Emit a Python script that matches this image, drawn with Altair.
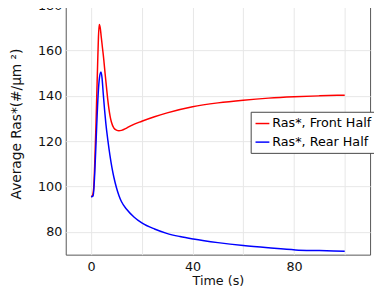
import altair as alt
import pandas as pd

# Front half (red)
t_front = [0, 0.5, 1.0, 1.4, 1.9, 2.3, 2.6, 2.9, 3.2, 3.6, 4.0, 4.5, 5.0, 5.5, 6.0, 6.5, 7.0, 7.5, 8.0,
           9.0, 10.0, 11.0, 12.0, 14.0, 16.0, 20.0, 25.0, 30.0, 40.0, 50.0, 60.0, 70.0, 80.0, 90.0, 100.0]
v_front = [95.5, 96.0, 99.0, 109.0, 126.5, 143.0, 155.0, 166.0, 171.5, 170.0, 166.0, 161.0, 156.0, 150.0,
           144.5, 139.0, 134.5, 131.0, 128.5, 125.8, 124.9, 124.6, 124.8, 125.8, 127.0, 128.8, 130.8, 132.5,
           135.2, 136.9, 138.1, 139.0, 139.6, 140.0, 140.3]

# Rear half (blue)
t_rear = [0, 0.8, 1.4, 1.9, 2.2, 2.8, 3.3, 3.9, 4.3, 4.8, 5.3, 5.8, 6.6, 7.4, 8.2, 9.0, 10.0, 11.0,
          12.0, 14.0, 17.0, 20.0, 25.0, 29.8, 35.0, 40.3, 50.0, 60.0, 70.0, 80.6, 90.0, 100.0]
v_rear = [95.5, 95.9, 105.0, 118.0, 126.5, 141.0, 148.0, 150.5, 148.0, 140.8, 134.0, 128.0, 120.5, 114.0,
          108.5, 104.0, 99.5, 96.0, 93.3, 90.0, 86.5, 84.0, 81.3, 79.4, 78.0, 76.9, 75.3, 74.0, 73.0, 72.1,
          71.8, 71.5]

series_names = ["Ras*, Front Half", "Ras*, Rear Half"]
series_colors = ["#ff0000", "#0000ff"]

df = pd.concat([
    pd.DataFrame({"t": t_front, "v": v_front, "s": series_names[0]}),
    pd.DataFrame({"t": t_rear, "v": v_rear, "s": series_names[1]}),
])

x_ticks = [0, 20, 40, 60, 80, 100]
y_ticks = [80, 100, 120, 140, 160, 180]

chart = alt.Chart(df).mark_line(strokeWidth=1.5, interpolate="monotone").encode(
    x=alt.X("t:Q", scale=alt.Scale(domain=[-10, 110], nice=False, zero=False),
            axis=alt.Axis(values=x_ticks, title="Time (s)",
                          labelExpr="datum.value % 40 == 0 ? datum.label : ''",
                          ticks=False, labelPadding=6, titlePadding=1, domain=False)),
    y=alt.Y("v:Q", scale=alt.Scale(domain=[70, 180], nice=False, zero=False),
            axis=alt.Axis(values=y_ticks, title="Average Ras*(#/μm ²)",
                          ticks=False, labelPadding=4, titlePadding=14, titleY=121,
                          titleFontSize=14, domain=False)),
    color=alt.Color("s:N", scale=alt.Scale(domain=series_names, range=series_colors),
                    legend=alt.Legend(title=None, orient="none", legendX=189, legendY=109,
                                      fillColor="white", strokeColor="#444", padding=4,
                                      labelFontSize=13, labelFont="DejaVu Sans",
                                      symbolType="stroke", symbolStrokeWidth=1.5, symbolSize=200,
                                      rowPadding=4, labelOffset=2)),
).properties(
    width=311, height=255,
    autosize=alt.AutoSizeParams(type="none"),
    padding={"left": 59, "top": -6, "right": 4, "bottom": 30},
).configure_axis(
    labelFont="DejaVu Sans", titleFont="DejaVu Sans", labelFontSize=13, titleFontSize=13,
    titleFontWeight="normal", labelColor="#111", titleColor="#111",
    gridColor="#e6e6e6", gridWidth=1,
).configure_view(
    stroke="#555", strokeWidth=1,
)

chart.save("out.html", embed_options={"renderer": "svg", "actions": False})
